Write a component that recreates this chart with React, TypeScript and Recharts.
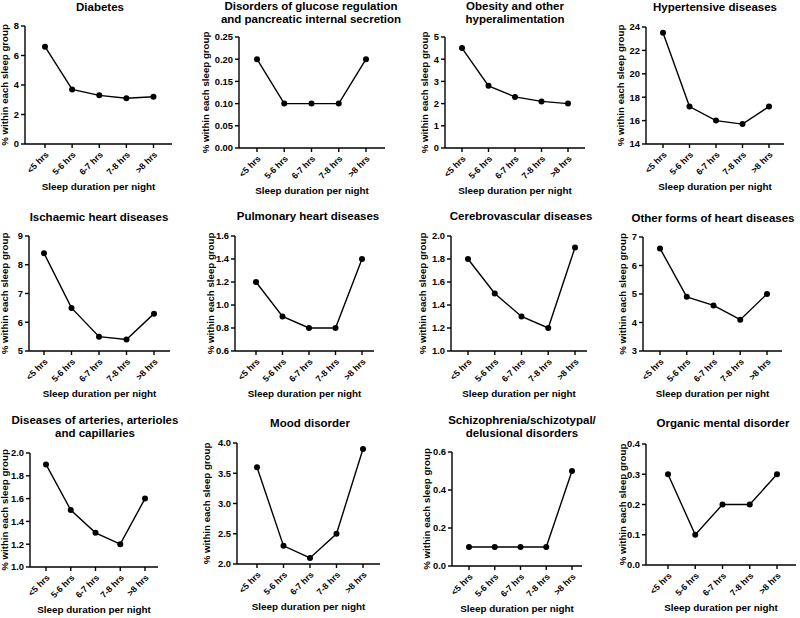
import React from 'react';
import { LineChart, Line, XAxis, YAxis } from 'recharts';

// sleep groups on every x axis
const sleepGroups = ['<5 hrs', '5-6 hrs', '6-7 hrs', '7-8 hrs', '>8 hrs'];

// % within each sleep group
const diabetesValues = [6.6, 3.7, 3.3, 3.1, 3.2];
const glucoseValues = [0.2, 0.1, 0.1, 0.1, 0.2];
const obesityValues = [4.5, 2.8, 2.3, 2.1, 2.0];
const hypertensiveValues = [23.5, 17.2, 16.0, 15.7, 17.2];
const ischaemicValues = [8.4, 6.5, 5.5, 5.4, 6.3];
const pulmonaryValues = [1.2, 0.9, 0.8, 0.8, 1.4];
const cerebroValues = [1.8, 1.5, 1.3, 1.2, 1.9];
const otherHeartValues = [6.6, 4.9, 4.6, 4.1, 5.0];
const arteriesValues = [1.9, 1.5, 1.3, 1.2, 1.6];
const moodValues = [3.6, 2.3, 2.1, 2.5, 3.9];
const schizoValues = [0.1, 0.1, 0.1, 0.1, 0.5];
const organicValues = [0.3, 0.1, 0.2, 0.2, 0.3];

// y tick labels per panel
const diabetesTicks = ['0', '2', '4', '6', '8'];
const glucoseTicks = ['0.00', '0.05', '0.10', '0.15', '0.20', '0.25'];
const obesityTicks = ['0', '1', '2', '3', '4', '5'];
const hypertensiveTicks = ['14', '16', '18', '20', '22', '24'];
const ischaemicTicks = ['5', '6', '7', '8', '9'];
const pulmonaryTicks = ['0.6', '0.8', '1.0', '1.2', '1.4', '1.6'];
const cerebroTicks = ['1.0', '1.2', '1.4', '1.6', '1.8', '2.0'];
const otherHeartTicks = ['3', '4', '5', '6', '7'];
const arteriesTicks = ['1.0', '1.2', '1.4', '1.6', '1.8', '2.0'];
const moodTicks = ['2.0', '2.5', '3.0', '3.5', '4.0'];
const schizoTicks = ['0.0', '0.2', '0.4', '0.6'];
const organicTicks = ['0.0', '0.1', '0.2', '0.3', '0.4'];

const panelTitles = [
  ['Diabetes'],
  ['Disorders of glucose regulation', 'and pancreatic internal secretion'],
  ['Obesity and other', 'hyperalimentation'],
  ['Hypertensive diseases'],
  ['Ischaemic heart diseases'],
  ['Pulmonary heart diseases'],
  ['Cerebrovascular diseases'],
  ['Other forms of heart diseases'],
  ['Diseases of arteries, arterioles', 'and capillaries'],
  ['Mood disorder'],
  ['Schizophrenia/schizotypal/', 'delusional disorders'],
  ['Organic mental disorder'],
];

const panelValues = [
  diabetesValues, glucoseValues, obesityValues, hypertensiveValues,
  ischaemicValues, pulmonaryValues, cerebroValues, otherHeartValues,
  arteriesValues, moodValues, schizoValues, organicValues,
];

const panelTicks = [
  diabetesTicks, glucoseTicks, obesityTicks, hypertensiveTicks,
  ischaemicTicks, pulmonaryTicks, cerebroTicks, otherHeartTicks,
  arteriesTicks, moodTicks, schizoTicks, organicTicks,
];

const yTitle = '% within each sleep group';
const xTitle = 'Sleep duration per night';

// where each plot sits on the page (px)
const layout = [
  { axisX: 25, top: 26, bottom: 144, cat0: 45, cat4: 153.5, end: 172, yLab: 20, tx: 100, ty: 7 },
  { axisX: 239, top: 37, bottom: 148, cat0: 257, cat4: 366, end: 385, yLab: 33, tx: 311, ty: 6 },
  { axisX: 445, top: 37, bottom: 148, cat0: 462, cat4: 568, end: 585, yLab: 20, tx: 515, ty: 6 },
  { axisX: 646, top: 27, bottom: 144, cat0: 663, cat4: 769, end: 784, yLab: 25, tx: 715, ty: 7 },
  { axisX: 29, top: 236, bottom: 351, cat0: 44, cat4: 154, end: 170, yLab: 24, tx: 99, ty: 217 },
  { axisX: 235, top: 236, bottom: 351, cat0: 256, cat4: 362, end: 374, yLab: 24, tx: 308, ty: 216 },
  { axisX: 451, top: 236, bottom: 351, cat0: 468, cat4: 575, end: 587, yLab: 28, tx: 521, ty: 216 },
  { axisX: 643, top: 237, bottom: 351, cat0: 660, cat4: 767, end: 782, yLab: 20, tx: 713, ty: 218 },
  { axisX: 30, top: 453, bottom: 567, cat0: 46, cat4: 145, end: 158, yLab: 25, tx: 95, ty: 420 },
  { axisX: 237, top: 443, bottom: 564, cat0: 257, cat4: 363, end: 380, yLab: 30, tx: 310, ty: 423 },
  { axisX: 452, top: 452, bottom: 566, cat0: 469, cat4: 572, end: 582, yLab: 25, tx: 522, ty: 420 },
  { axisX: 646, top: 444, bottom: 565, cat0: 668, cat4: 777, end: 796, yLab: 23, tx: 723, ty: 423 },
];

const FONT = '"Liberation Sans", Arial, Helvetica, sans-serif';
const MT = 12;
const XH = 50;
const MB = 2;
const MR = 4;

const SleepTick = (props: any) => {
  const { x, y, payload } = props;
  return (
    <g transform={`translate(${x + 2},${y + 3}) rotate(-45)`}>
      <text x={0} y={0} dy="0.35em" textAnchor="end" fontSize={8.8} fontWeight={700} fill="#000">
        {payload.value}
      </text>
    </g>
  );
};

const Panel = ({ index }: { index: number }) => {
  const l = layout[index];
  const labels = panelTicks[index];
  const ticks = labels.map(Number);
  const data = sleepGroups.map((g, i) => ({ group: g, value: panelValues[index][i] }));
  const yW = l.yLab * 2;
  const plotW = l.end - l.axisX;
  const plotH = l.bottom - l.top;
  const width = yW + plotW + MR;
  const height = MT + plotH + XH + MB;

  return (
    <>
      <div
        style={{
          position: 'absolute',
          left: l.tx - 130,
          top: l.ty - 6.5,
          width: 260,
          textAlign: 'center',
          fontSize: 11.5,
          fontWeight: 700,
          lineHeight: '13px',
          whiteSpace: 'nowrap',
          color: '#000',
        }}
      >
        {panelTitles[index].map((t, i) => (
          <div key={i}>{t}</div>
        ))}
      </div>
      <div style={{ position: 'absolute', left: l.axisX - yW, top: l.top - MT }}>
        <LineChart width={width} height={height} data={data} margin={{ top: MT, right: MR, left: 0, bottom: MB }}>
          <XAxis
            dataKey="group"
            interval={0}
            padding={{ left: l.cat0 - l.axisX, right: l.end - l.cat4 }}
            height={XH}
            stroke="#000"
            strokeWidth={1.4}
            tickSize={4}
            tick={<SleepTick />}
            label={{ value: xTitle, position: 'insideBottom', offset: 4.5, fontSize: 9.9, fontWeight: 700, fill: '#000' }}
          />
          <YAxis
            type="number"
            domain={[ticks[0], ticks[ticks.length - 1]]}
            ticks={ticks}
            interval={0}
            width={yW}
            stroke="#000"
            strokeWidth={1.4}
            tickSize={4}
            tickMargin={2}
            tick={{ fontSize: 9.4, fontWeight: 700, fill: '#000' }}
            tickFormatter={(v: number) => labels.find((s) => Number(s) === v) ?? String(v)}
            label={{ value: yTitle, angle: -90, position: 'center', fontSize: 9.7, fontWeight: 700, fill: '#000' }}
          />
          <Line
            dataKey="value"
            stroke="#000"
            strokeWidth={1.4}
            dot={{ r: 3, fill: '#000', stroke: '#000', strokeWidth: 0 }}
            activeDot={false}
            isAnimationActive={false}
          />
        </LineChart>
      </div>
    </>
  );
};

export default function App() {
  return (
    <div
      style={{
        position: 'absolute',
        left: 0,
        top: 0,
        width: 800,
        height: 618,
        background: '#fff',
        fontFamily: FONT,
        overflow: 'hidden',
      }}
    >
      {layout.map((_, i) => (
        <Panel key={i} index={i} />
      ))}
    </div>
  );
}
